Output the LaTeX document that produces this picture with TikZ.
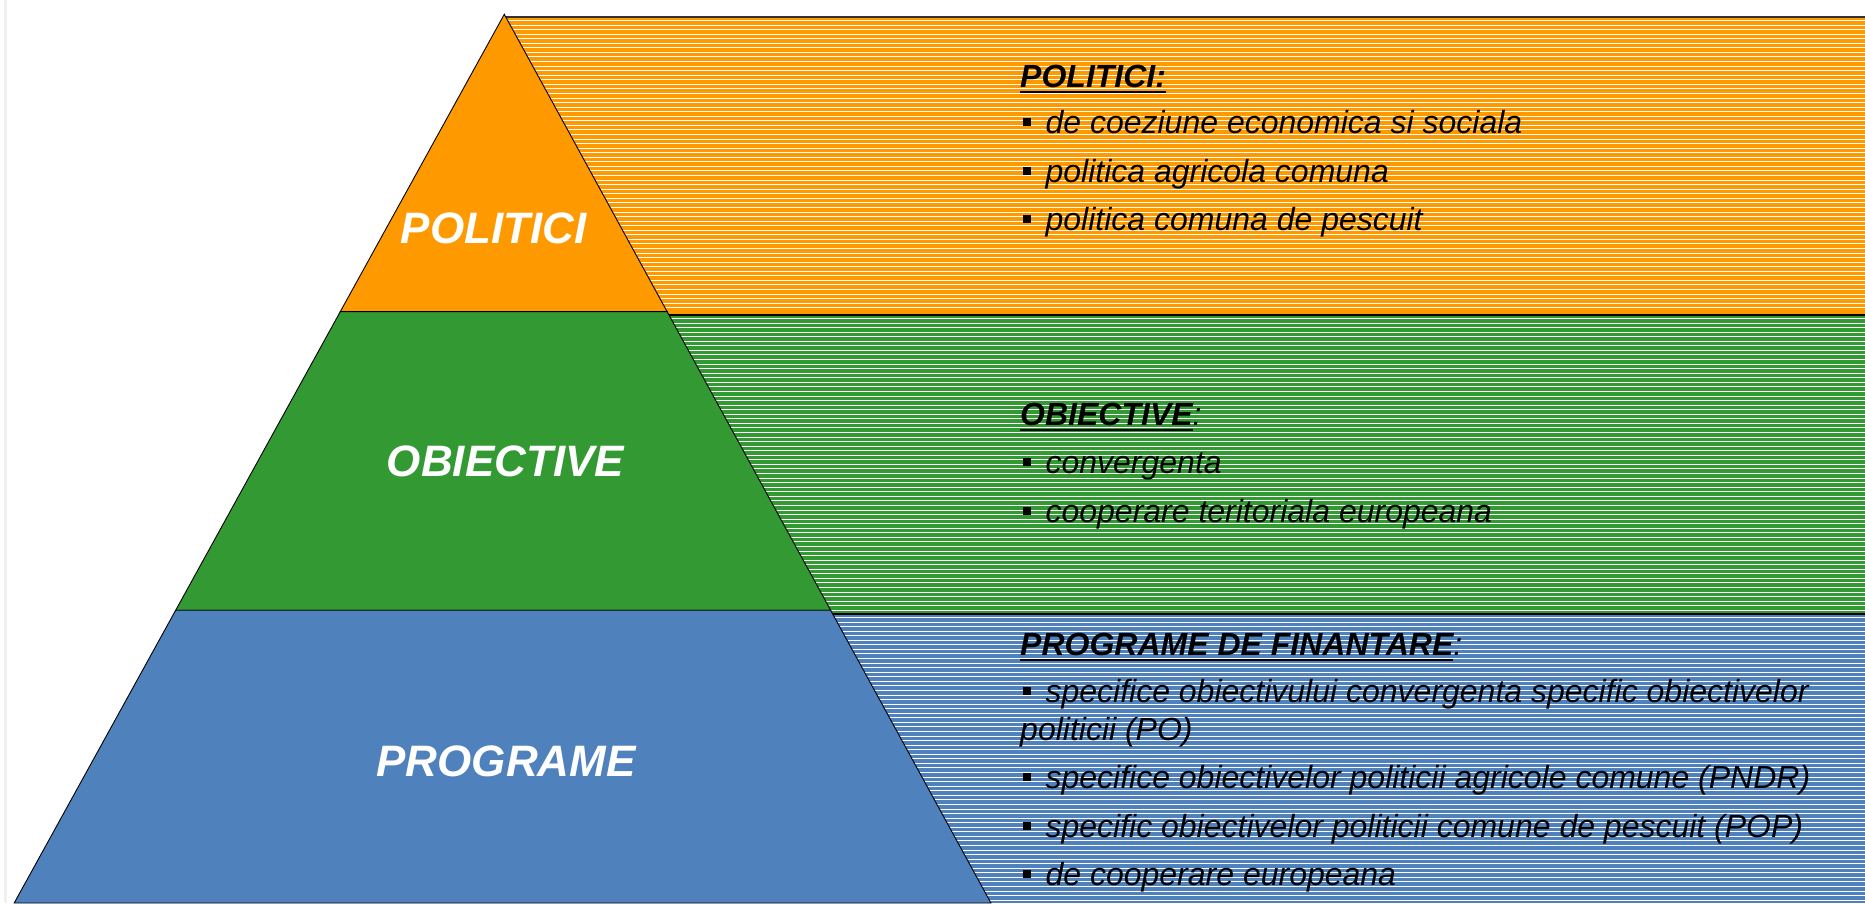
\documentclass[tikz,border=0pt]{standalone}
\usepackage{fontspec}
\setmainfont{Liberation Sans}
\definecolor{corange}{HTML}{FF9900}
\definecolor{cgreen}{HTML}{339933}
\definecolor{cblue}{HTML}{4F81BD}
\newcommand{\myul}[1]{\setbox0\hbox{#1}\rlap{\rule[-0.2em]{\wd0}{0.09em}}\box0}
\newcommand{\blt}{\rule[0.21em]{0.25em}{0.25em}\hspace{0.45em}}
\begin{document}
\begin{tikzpicture}[x=1pt,y=-1pt,
  lbl/.style={text=white,font=\fontsize{44}{50}\selectfont\bfseries\itshape,inner sep=0pt},
  txt/.style={anchor=base west,inner sep=0pt,font=\fontsize{32}{38}\selectfont\itshape},
  stripe/.style={white,line width=1pt},
  sect/.style={draw=black,line width=0.9pt,line join=miter},
  sep/.style={black,line width=2pt}]
\useasboundingbox (0,0) rectangle (1865,903);
% faint left margin line
\draw[black!6,line width=3pt] (5,0) -- (5,903);
% coordinates of the pyramid
\coordinate (A) at (504.3,14.3);
\coordinate (L1) at (340.3,311.6);
\coordinate (R1) at (667.1,311.6);
\coordinate (L2) at (175.7,610.2);
\coordinate (R2) at (830.6,610.2);
\coordinate (L3) at (14.2,903);
\coordinate (R3) at (990.9,903);
% hatched bands
\fill[corange] (504.3,16.5) rectangle (1865,314.5);
\fill[cgreen] (504.3,314.5) rectangle (1865,613.5);
\fill[cblue] (504.3,613.5) rectangle (1865,903);
% stripes
\foreach \y in {20.5,25.06,...,312} \draw[stripe] (504.3,\y) -- (1865,\y);
\foreach \y in {318.5,323.06,...,611} \draw[stripe] (504.3,\y) -- (1865,\y);
\foreach \y in {617.5,622.06,...,903} \draw[stripe] (504.3,\y) -- (1865,\y);
% band borders
\draw[black!80,line width=2pt] (504.3,16.5) -- (1865,16.5);
\draw[sep] (600,314.5) -- (1865,314.5);
\draw[sep] (760,613.5) -- (1865,613.5);
% texts
\node[txt] (h1) at (1020,87) {\bfseries\myul{POLITICI:}};
\node[txt] (p1) at (1023,133) {\blt de coeziune economica si sociala};
\node[txt] (p2) at (1023,182) {\blt politica agricola comuna};
\node[txt] (p3) at (1023,230) {\blt politica comuna de pescuit};
\node[txt] (h2) at (1020,425) {\myul{\bfseries OBIECTIVE}:};
\node[txt] (o1) at (1023,473) {\blt convergenta};
\node[txt] (o2) at (1023,522) {\blt cooperare teritoriala europeana};
\node[txt] (h3) at (1020,655) {\myul{\bfseries PROGRAME DE FINANTARE}:};
\node[txt] (g1) at (1023,702) {\blt specifice obiectivului convergenta specific obiectivelor};
\node[txt] (g1b) at (1020,740) {politicii (PO)};
\node[txt] (g2) at (1023,788) {\blt specifice obiectivelor politicii agricole comune (PNDR)};
\node[txt] (g3) at (1023,837) {\blt specific obiectivelor politicii comune de pescuit (POP)};
\node[txt] (g4) at (1023,885) {\blt de cooperare europeana};
% pyramid sections
\filldraw[sect,fill=corange] (A) -- (R1) -- (L1) -- cycle;
\filldraw[sect,fill=cgreen] (L1) -- (R1) -- (R2) -- (L2) -- cycle;
\filldraw[sect,fill=cblue] (L2) -- (R2) -- (R3) -- (L3) -- cycle;
% labels
\node[lbl] (lp) at (493.6,228.4) {POLITICI};
\node[lbl] (lo) at (505.5,461.5) {OBIECTIVE};
\node[lbl] (lg) at (506,761) {PROGRAME};
\end{tikzpicture}
\end{document}
